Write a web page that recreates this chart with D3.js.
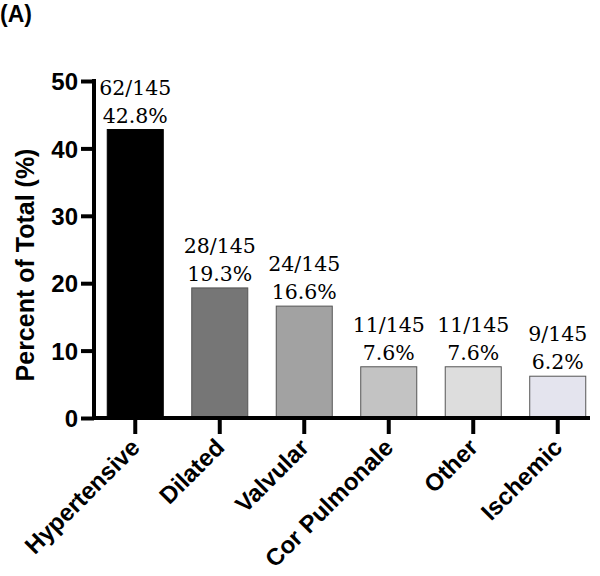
<!DOCTYPE html>
<html>
<head>
<meta charset="utf-8">
<script src="https://cdn.jsdelivr.net/npm/d3@7/dist/d3.min.js"></script>
<style>
  html, body { margin: 0; padding: 0; background: #fff; }
  svg { display: block; }
</style>
</head>
<body>
<script>
const categories = ["Hypertensive", "Dilated", "Valvular", "Cor Pulmonale", "Other", "Ischemic"];
const counts = [62, 28, 24, 11, 11, 9];
const total = 145;
const percents = [42.8, 19.3, 16.6, 7.6, 7.6, 6.2];
const barColors = ["#000000", "#767676", "#a2a2a2", "#c3c3c3", "#dddddd", "#e4e4ee"];
const yTicks = [0, 10, 20, 30, 40, 50];

const W = 600, H = 576;
const svg = d3.select("body").append("svg").attr("width", W).attr("height", H);

const y = d3.scaleLinear().domain([0, 50]).range([418, 81]);
const x = d3.scaleBand().domain(categories).range([101, 592]).paddingInner(0.337).paddingOuter(0.074);

const axisX = 94;
const sans = "'Liberation Sans', Arial, sans-serif";

// Panel label
svg.append("text").attr("x", 0).attr("y", 22)
  .attr("font-family", sans).attr("font-weight", "bold").attr("font-size", 23)
  .text("(A)");

// Bars
svg.selectAll("rect.bar").data(categories).enter().append("rect")
  .attr("class", "bar")
  .attr("x", d => x(d))
  .attr("y", (d, i) => y(percents[i]))
  .attr("width", x.bandwidth())
  .attr("height", (d, i) => y(0) - y(percents[i]))
  .attr("fill", (d, i) => barColors[i])
  .attr("stroke", (d, i) => i === 0 ? "#000" : "#555")
  .attr("stroke-width", 1);

// Y axis
const yAxis = d3.axisLeft(y).tickValues(yTicks).tickSize(13).tickPadding(3);
const gy = svg.append("g").attr("transform", `translate(${axisX},0)`).call(yAxis);
gy.select(".domain").remove();
gy.selectAll(".tick line").attr("stroke", "#000").attr("stroke-width", 4);
gy.selectAll(".tick text")
  .attr("font-family", sans).attr("font-weight", "bold").attr("font-size", 24)
  .attr("fill", "#000").attr("dy", "0.36em");
svg.append("line").attr("x1", axisX).attr("x2", axisX)
  .attr("y1", y(50) - 2).attr("y2", y(0))
  .attr("stroke", "#000").attr("stroke-width", 4);

// X axis
const xAxis = d3.axisBottom(x).tickSize(16).tickFormat("");
const gx = svg.append("g").attr("transform", `translate(0,${y(0)})`).call(xAxis);
gx.select(".domain").remove();
gx.selectAll(".tick line").attr("stroke", "#000").attr("stroke-width", 4);
svg.append("line").attr("x1", axisX - 2).attr("x2", 590)
  .attr("y1", y(0)).attr("y2", y(0))
  .attr("stroke", "#000").attr("stroke-width", 4);

// Category labels
svg.selectAll("text.cat").data(categories).enter().append("text")
  .attr("class", "cat")
  .attr("transform", d => `translate(${x(d) + x.bandwidth() / 2 + 6},449) rotate(-45)`)
  .attr("text-anchor", "end")
  .attr("font-family", sans).attr("font-weight", "bold").attr("font-size", 24)
  .attr("fill", "#000")
  .text(d => d);

// Y axis title
svg.append("text")
  .attr("transform", "translate(34,265) rotate(-90)")
  .attr("text-anchor", "middle")
  .attr("font-family", sans).attr("font-weight", "bold").attr("font-size", 25)
  .text("Percent of Total (%)");

// Value labels
const serif = "'DejaVu Serif', serif";
const lab = svg.selectAll("g.vlab").data(categories).enter().append("g").attr("class", "vlab");
lab.append("text")
  .attr("x", d => x(d) + x.bandwidth() / 2)
  .attr("y", (d, i) => y(percents[i]) - 35)
  .attr("text-anchor", "middle")
  .attr("font-family", serif).attr("font-size", 20.5)
  .attr("fill", "#000")
  .text((d, i) => `${counts[i]}/${total}`);
lab.append("text")
  .attr("x", d => x(d) + x.bandwidth() / 2)
  .attr("y", (d, i) => y(percents[i]) - 7)
  .attr("text-anchor", "middle")
  .attr("font-family", serif).attr("font-size", 20.5)
  .attr("fill", "#000")
  .text((d, i) => `${percents[i].toFixed(1)}%`);
</script>
</body>
</html>
